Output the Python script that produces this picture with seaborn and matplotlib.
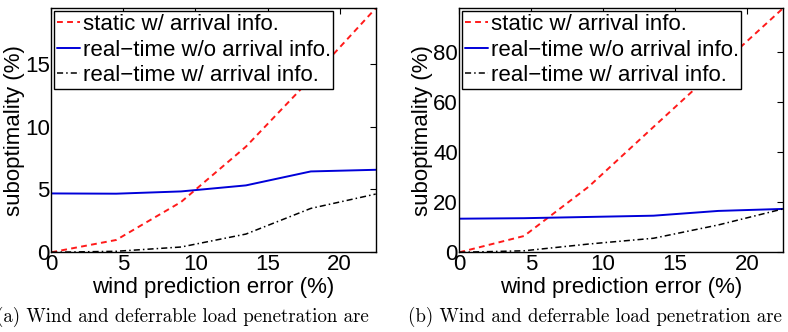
import matplotlib
matplotlib.use("Agg")
import matplotlib.pyplot as plt
import seaborn as sns
import pandas as pd

# data
wind_error = [0, 4.5, 9, 13.5, 18, 22.5]
series_names = ["static w/ arrival info.", "real\u2212time w/o arrival info.", "real\u2212time w/ arrival info."]

a_static = [0.0, 0.98, 4.0, 8.4, 13.8, 19.4]
a_rt_wo = [4.68, 4.66, 4.84, 5.32, 6.43, 6.56]
a_rt_w = [0.0, 0.08, 0.42, 1.45, 3.49, 4.63]

b_static = [0.0, 6.5, 26.2, 50.0, 73.7, 97.3]
b_rt_wo = [13.4, 13.6, 14.1, 14.6, 16.5, 17.3]
b_rt_w = [0.0, 0.6, 3.3, 5.6, 10.9, 17.3]

a_yticks = [0, 5, 10, 15]
b_yticks = [0, 20, 40, 60, 80]
x_ticks = [0, 5, 10, 15, 20]
captions = ["(a) Wind and deferrable load penetration are",
            "(b) Wind and deferrable load penetration are"]

sns.set_style("white")
plt.rcParams['font.family'] = ['Liberation Sans', 'DejaVu Sans']
plt.rcParams['text.color'] = 'black'
plt.rcParams['axes.labelcolor'] = 'black'
plt.rcParams['xtick.color'] = 'black'
plt.rcParams['ytick.color'] = 'black'

W, H = 788, 332
FS = 16
fig = plt.figure(figsize=(W / 100, H / 100), dpi=100)

styles = [dict(color=(1.0, 0.1, 0.1), linestyle=(0, (3.0, 2.2)), linewidth=1.4),
          dict(color=(0.0, 0.0, 0.85), linestyle="-", linewidth=1.4),
          dict(color="black", linestyle=(0, (4, 2, 1, 2)), linewidth=1.1)]

def make_axes(px_left, px_right, px_top, px_bottom):
    return fig.add_axes([px_left / W, 1 - px_bottom / H,
                         (px_right - px_left) / W, (px_bottom - px_top) / H])

ax_a = make_axes(51.3, 375.7, 8.3, 252.3)
ax_b = make_axes(459.3, 783.0, 8.3, 252.3)

panels = [(ax_a, [a_static, a_rt_wo, a_rt_w], a_yticks, max(a_static)),
          (ax_b, [b_static, b_rt_wo, b_rt_w], b_yticks, max(b_static))]

for ax, vals, yt, ymax in panels:
    for name, v, st in zip(series_names, vals, styles):
        df = pd.DataFrame({"x": wind_error, "y": v})
        sns.lineplot(data=df, x="x", y="y", ax=ax, label=name, **st)
    ax.set_xlim(0, 22.5)
    ax.set_ylim(0, ymax)
    ax.set_xticks(x_ticks)
    ax.set_yticks(yt)
    ax.tick_params(direction="in", length=4, width=0.8, top=True, right=True,
                   labelsize=FS, pad=1, color="black", labelcolor="black")
    for s in ax.spines.values():
        s.set_visible(True)
        s.set_color("black")
        s.set_linewidth(1.0)
    ax.set_xlabel("wind prediction error (%)", fontsize=FS, labelpad=2)
    ax.set_ylabel("suboptimality (%)", fontsize=FS, labelpad=0)
    leg = ax.legend(loc="upper left", bbox_to_anchor=(0.008, 0.987), fontsize=FS,
                    frameon=True, fancybox=False, framealpha=1, edgecolor="black",
                    handlelength=1.05, handletextpad=0.12, borderpad=0.12,
                    labelspacing=0.2, borderaxespad=0.0)
    leg.get_frame().set_linewidth(1.0)

for txt, cx in zip(captions, [182, 595]):
    fig.text(cx / W, 1 - 317 / H, txt, ha="center", va="center",
             fontsize=13.6, family=["cmr10", "DejaVu Serif"], color="black")

fig.savefig("out.png", dpi=100)
